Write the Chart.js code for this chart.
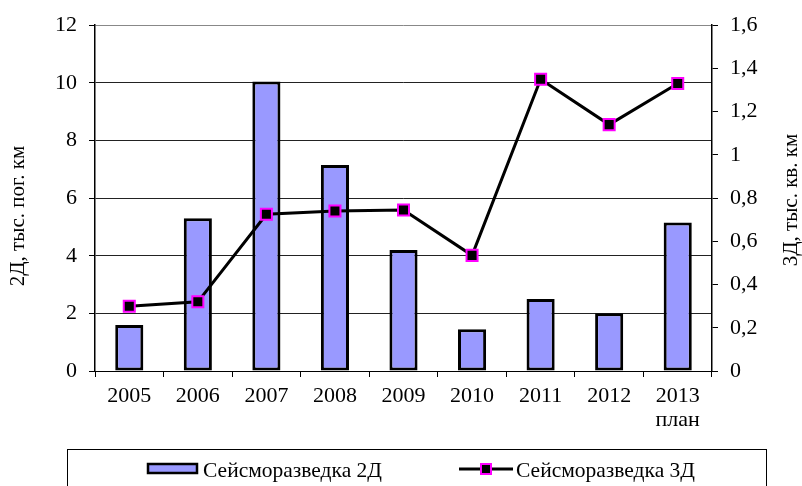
<!DOCTYPE html>
<html>
<head>
<meta charset="utf-8">
<script src="https://cdn.jsdelivr.net/npm/chart.js@4/dist/chart.umd.min.js"></script>
<style>
html,body{margin:0;padding:0;background:#fff;}
#wrap{width:802px;height:486px;position:relative;}
</style>
</head>
<body>
<div id="wrap"><canvas id="c" width="802" height="486"></canvas></div>
<script>
const categories = ['2005','2006','2007','2008','2009','2010','2011','2012',['2013','план']];
const seis2D = [1.6, 5.3, 10.05, 7.15, 4.2, 1.45, 2.5, 2.0, 5.15];
const seis3D = [0.30, 0.32, 0.725, 0.74, 0.745, 0.535, 1.35, 1.14, 1.33];
const leftTicks = {min: 0, max: 12, step: 2};
const rightTicks = {min: 0, max: 1.6, step: 0.2};
const label2D = 'Сейсморазведка 2Д';
const label3D = 'Сейсморазведка 3Д';
const titleLeft = '2Д, тыс. пог. км';
const titleRight = '3Д, тыс. кв. км';

const FONT = '"Liberation Serif", "Times New Roman", serif';
const fmt = v => String(Math.round(v * 10) / 10).replace('.', ',');

const extras = {
  id: 'extras',
  afterDraw(chart) {
    const ctx = chart.ctx;
    ctx.save();
    // axis titles
    ctx.fillStyle = '#000';
    ctx.font = '21px ' + FONT;
    ctx.textAlign = 'center';
    ctx.textBaseline = 'middle';
    ctx.save();
    ctx.translate(18, 216);
    ctx.rotate(-Math.PI / 2);
    ctx.fillText(titleLeft, 0, 0);
    ctx.restore();
    ctx.save();
    ctx.translate(791, 200);
    ctx.rotate(-Math.PI / 2);
    ctx.fillText(titleRight, 0, 0);
    ctx.restore();

    // legend box
    ctx.strokeStyle = '#000';
    ctx.lineWidth = 1;
    ctx.strokeRect(67.5, 449.5, 699, 60);
    // item 1 swatch
    ctx.fillStyle = '#9999FF';
    ctx.fillRect(147, 463, 51, 11);
    ctx.lineWidth = 2.5;
    ctx.strokeRect(148, 464, 49, 9);
    ctx.fillStyle = '#000';
    ctx.font = '21.5px ' + FONT;
    ctx.textAlign = 'left';
    ctx.textBaseline = 'alphabetic';
    ctx.fillText(label2D, 203, 477);
    // item 2 swatch
    ctx.strokeStyle = '#000';
    ctx.lineWidth = 3;
    ctx.beginPath();
    ctx.moveTo(459, 469);
    ctx.lineTo(513, 469);
    ctx.stroke();
    ctx.fillStyle = '#000';
    ctx.fillRect(481, 464, 10, 10);
    ctx.strokeStyle = '#FF00FF';
    ctx.lineWidth = 2;
    ctx.strokeRect(481, 464, 10, 10);
    ctx.fillStyle = '#000';
    ctx.fillText(label3D, 516, 477);
    ctx.restore();
  }
};

new Chart(document.getElementById('c'), {
  data: {
    labels: categories,
    datasets: [
      {
        type: 'line',
        label: label3D,
        data: seis3D,
        yAxisID: 'y1',
        borderColor: '#000',
        borderWidth: 3,
        pointStyle: 'rect',
        pointRadius: 7.8,
        pointBackgroundColor: '#000',
        pointBorderColor: '#FF00FF',
        pointBorderWidth: 2,
        tension: 0,
        order: 1
      },
      {
        type: 'bar',
        label: label2D,
        data: seis2D,
        yAxisID: 'y',
        backgroundColor: '#9999FF',
        borderColor: '#000',
        borderWidth: 3,
        borderSkipped: false,
        barPercentage: 0.41,
        categoryPercentage: 1,
        order: 2
      }
    ]
  },
  options: {
    responsive: false,
    animation: false,
    devicePixelRatio: 1,
    layout: {padding: {top: 22, left: 0, right: 0, bottom: 0}},
    plugins: {legend: {display: false}, tooltip: {enabled: false}},
    scales: {
      x: {
        offset: true,
        afterFit(s) { s.height = 115; },
        grid: {offset: true, drawOnChartArea: false, drawTicks: true, tickLength: 6, color: '#000'},
        border: {color: '#000', width: 1},
        ticks: {color: '#000', padding: 7, maxRotation: 0, autoSkip: false,
          font: {family: FONT, size: 22, lineHeight: 1.1}}
      },
      y: {
        position: 'left',
        min: leftTicks.min, max: leftTicks.max,
        afterFit(s) { s.width = 95; },
        grid: {color: ctx => ctx.tick && ctx.tick.value === leftTicks.max ? '#888' : '#222', lineWidth: 1, tickLength: 6, tickColor: '#000'},
        border: {color: '#000', width: 1.5},
        ticks: {stepSize: leftTicks.step, color: '#000', padding: 12,
          font: {family: FONT, size: 22}}
      },
      y1: {
        position: 'right',
        min: rightTicks.min, max: rightTicks.max,
        afterFit(s) { s.width = 90; },
        grid: {drawOnChartArea: false, tickLength: 6, color: '#000'},
        border: {color: '#000', width: 1.5},
        ticks: {stepSize: rightTicks.step, color: '#000', padding: 12,
          callback: v => fmt(v),
          font: {family: FONT, size: 22}}
      }
    }
  },
  plugins: [extras]
});
</script>
</body>
</html>
